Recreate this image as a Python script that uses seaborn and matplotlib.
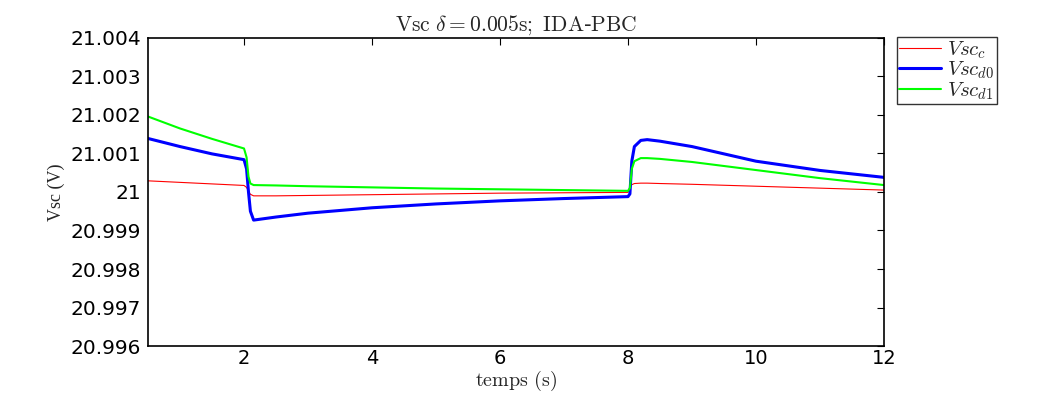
import numpy as np
import pandas as pd
import seaborn as sns
import matplotlib
matplotlib.use("Agg")
import matplotlib.pyplot as plt

# temps (s)
t = [0.5, 1.0, 1.5, 2.0, 2.04, 2.07, 2.1, 2.15, 2.5, 3.0, 4.0, 5.0, 6.0, 7.0,
     8.0, 8.03, 8.06, 8.1, 8.2, 8.3, 8.5, 9.0, 10.0, 11.0, 12.0]

vsc_c = [21.00029, 21.00025, 21.00021, 21.00017, 21.00012, 21.00002, 20.99994, 20.99990,
         20.99990, 20.99991, 20.99993, 20.99995, 20.99997, 20.99998,
         20.99999, 21.00012, 21.00019, 21.00022, 21.00023, 21.00023, 21.00022, 21.00020,
         21.00015, 21.00010, 21.00005]

vsc_d0 = [21.00139, 21.00118, 21.00099, 21.00084, 21.00060, 21.00000, 20.99950, 20.99927,
          20.99935, 20.99945, 20.99959, 20.99969, 20.99977, 20.99983,
          20.99988, 20.99995, 21.00080, 21.00118, 21.00134, 21.00136, 21.00132, 21.00118,
          21.00080, 21.00056, 21.00038]

vsc_d1 = [21.00196, 21.00165, 21.00138, 21.00113, 21.00090, 21.00040, 21.00022, 21.00018,
          21.00017, 21.00015, 21.00012, 21.00009, 21.00007, 21.00005,
          21.00003, 21.00010, 21.00060, 21.00080, 21.00088, 21.00088, 21.00086, 21.00078,
          21.00057, 21.00036, 21.00018]

yticks = [20.996, 20.997, 20.998, 20.999, 21.0, 21.001, 21.002, 21.003, 21.004]
ytick_labels = ["20.996", "20.997", "20.998", "20.999", "21", "21.001", "21.002", "21.003", "21.004"]
xticks = [2, 4, 6, 8, 10, 12]

sns.set_style("white")
plt.rcParams['font.family'] = ['DejaVu Sans']
plt.rcParams['mathtext.fontset'] = 'cm'

fig = plt.figure(figsize=(10.38, 3.94), dpi=100)
ax = fig.add_axes([0.1426, 0.1218, 0.709, 0.7818])

sns.lineplot(x=t, y=vsc_c, ax=ax, color=(1, 0, 0), linewidth=0.8, label=r'$Vsc_c$')
sns.lineplot(x=t, y=vsc_d0, ax=ax, color=(0, 0, 1), linewidth=2.2, label=r'$Vsc_{d0}$')
sns.lineplot(x=t, y=vsc_d1, ax=ax, color=(0, 1, 0), linewidth=1.5, label=r'$Vsc_{d1}$')

ax.set_xlim(0.5, 12)
ax.set_ylim(20.996, 21.004)
ax.set_xticks(xticks)
ax.set_xticklabels([str(v) for v in xticks], fontsize=14)
ax.set_yticks(yticks)
ax.set_yticklabels(ytick_labels, fontsize=14.5)
ax.tick_params(direction='in', length=5, width=0.8, top=True, right=True, colors='black',
               pad=5)
ax.tick_params(axis='x', pad=2)
for s in ax.spines.values():
    s.set_color('black')
    s.set_linewidth(1.2)

ax.set_title(r'$\mathrm{Vsc}\ \delta\mathrm{=0.005s;\ IDA}$-$\mathrm{PBC}$', fontsize=15.5, pad=5)
ax.set_xlabel(r'$\mathrm{temps\ (s)}$', fontsize=14.5, va='center')
ax.xaxis.set_label_coords(0.5, -0.114)
ax.set_ylabel('Vsc (V)', fontsize=13, family=['Liberation Serif', 'DejaVu Serif'], labelpad=4)

leg = ax.legend(loc='upper left', bbox_to_anchor=(1.018, 1.003), fontsize=15,
                frameon=True, fancybox=False, edgecolor='black', handlelength=2.0,
                borderpad=0.1, labelspacing=-0.05, handletextpad=0.3, borderaxespad=0)
leg.get_frame().set_linewidth(1.0)

fig.savefig('out.png', dpi=100)
